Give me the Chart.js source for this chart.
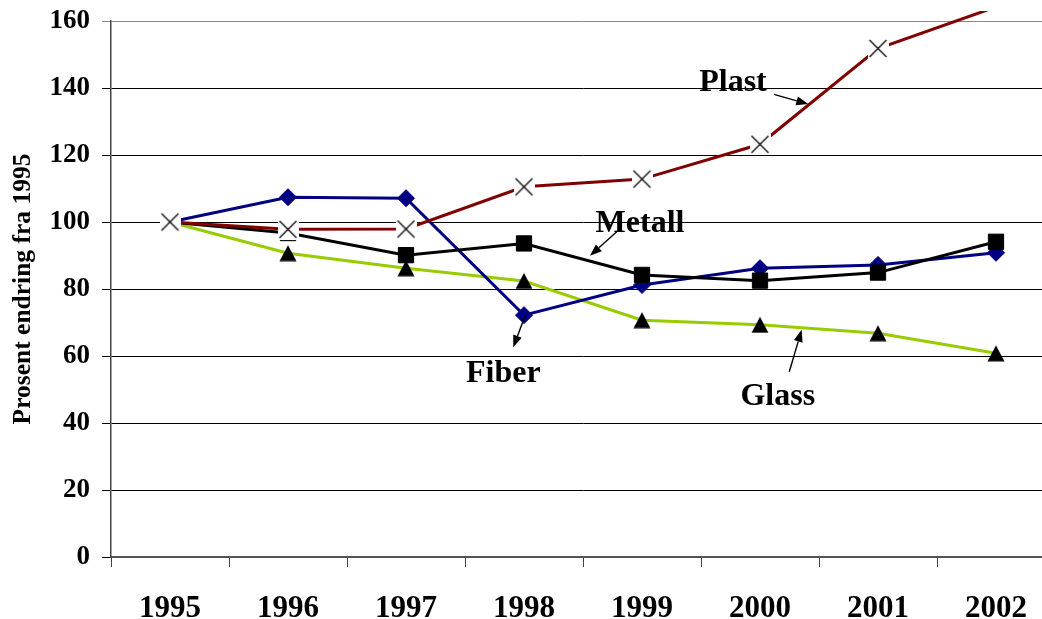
<!DOCTYPE html>
<html>
<head>
<meta charset="utf-8">
<script src="https://cdn.jsdelivr.net/npm/chart.js@4.4.0/dist/chart.umd.min.js"></script>
<style>
  html, body { margin: 0; padding: 0; background: #fff; overflow: hidden; width: 1042px; height: 619px; }
  #wrap { width: 1068px; height: 619px; }
</style>
</head>
<body>
<div id="wrap"><canvas id="c" width="1068" height="619"></canvas></div>
<script>
// Index of packaging waste volumes by material, 1995 = 100
const years  = ['1995', '1996', '1997', '1998', '1999', '2000', '2001', '2002'];
const fiber  = [100, 107.4, 107.1, 72.2, 81.2, 86.2, 87.2, 90.8];
const metall = [100, 96.7, 90.1, 93.6, 84.2, 82.5, 84.9, 94.1];
const plast  = [100, 97.8, 97.9, 110.5, 112.8, 123.2, 151.8, 164.2];
const glass  = [100, 90.7, 86.2, 82.4, 70.7, 69.3, 66.8, 60.8];
const yTicks = { min: 0, max: 160, step: 20 };

// Series callouts: text anchor (category index, value) and arrow from -> to
const callouts = [
  { text: 'Plast',  x: 4.771, y: 139.1, from: [5.119, 138.1], to: [5.409, 135.2] },
  { text: 'Metall', x: 3.983, y: 97.1,  from: [3.786, 97.1],  to: [3.559, 89.9] },
  { text: 'Fiber',  x: 2.825, y: 52.1,  from: [3.008, 71.9],  to: [2.909, 62.6] },
  { text: 'Glass',  x: 5.151, y: 45.4,  from: [5.248, 55.3],  to: [5.353, 67.8] }
];

const SERIF = "'Liberation Serif', 'Times New Roman', serif";

// X marker on a white tile, so lines stop short of it
function crossMarker() {
  const cv = document.createElement('canvas');
  cv.width = 21; cv.height = 21;
  const g = cv.getContext('2d');
  g.fillStyle = '#fff';
  g.fillRect(0, 0, 21, 21);
  g.strokeStyle = '#000';
  g.lineWidth = 1.2;
  g.beginPath();
  g.moveTo(2, 2); g.lineTo(19, 19);
  g.moveTo(19, 2); g.lineTo(2, 19);
  g.stroke();
  return cv;
}

// Solid triangle centred on its box
function triangleMarker() {
  const cv = document.createElement('canvas');
  cv.width = 18; cv.height = 17;
  const g = cv.getContext('2d');
  g.fillStyle = '#000';
  g.beginPath();
  g.moveTo(9, 0.5); g.lineTo(17.5, 16.5); g.lineTo(0.5, 16.5);
  g.closePath();
  g.fill();
  return cv;
}

const calloutPlugin = {
  id: 'callouts',
  afterDraw(chart) {
    const { ctx, scales: { x, y } } = chart;
    ctx.save();
    ctx.fillStyle = '#000';
    ctx.strokeStyle = '#000';
    ctx.font = 'bold 32px ' + SERIF;
    ctx.textAlign = 'center';
    ctx.textBaseline = 'alphabetic';
    callouts.forEach(c => {
      ctx.fillText(c.text, x.getPixelForValue(c.x), y.getPixelForValue(c.y));
      const x1 = x.getPixelForValue(c.from[0]), y1 = y.getPixelForValue(c.from[1]);
      const x2 = x.getPixelForValue(c.to[0]),   y2 = y.getPixelForValue(c.to[1]);
      const ang = Math.atan2(y2 - y1, x2 - x1);
      const len = 12, half = 4.5;
      const bx = x2 - len * Math.cos(ang), by = y2 - len * Math.sin(ang);
      ctx.lineWidth = 1.4;
      ctx.beginPath();
      ctx.moveTo(x1, y1);
      ctx.lineTo(bx, by);
      ctx.stroke();
      ctx.beginPath();
      ctx.moveTo(x2, y2);
      ctx.lineTo(bx + half * Math.sin(ang), by - half * Math.cos(ang));
      ctx.lineTo(bx - half * Math.sin(ang), by + half * Math.cos(ang));
      ctx.closePath();
      ctx.fill();
    });
    ctx.restore();
  }
};

const lineBase = { borderWidth: 3, tension: 0, fill: false, clip: { left: 20, top: 10, right: 20, bottom: 20 } };

new Chart(document.getElementById('c'), {
  type: 'line',
  data: {
    labels: years,
    datasets: [
      Object.assign({}, lineBase, {
        label: 'Plast', data: plast, borderColor: '#800000',
        pointStyle: crossMarker(), pointRadius: 10, order: 0
      }),
      Object.assign({}, lineBase, {
        label: 'Metall', data: metall, borderColor: '#000000',
        pointStyle: 'rect', pointRadius: 10.8, pointBackgroundColor: '#000', pointBorderColor: '#000',
        pointBorderWidth: 1, order: 1
      }),
      Object.assign({}, lineBase, {
        label: 'Fiber', data: fiber, borderColor: '#000080',
        pointStyle: 'rectRot', pointRadius: 8.5, pointBackgroundColor: '#000080', pointBorderColor: '#000080',
        pointBorderWidth: 1, order: 2
      }),
      Object.assign({}, lineBase, {
        label: 'Glass', data: glass, borderColor: '#99CC00',
        pointStyle: triangleMarker(), pointRadius: 9, order: 3
      })
    ]
  },
  options: {
    responsive: false,
    devicePixelRatio: 1,
    animation: false,
    events: [],
    layout: { padding: { top: 21, left: 0, right: 5, bottom: 0 } },
    plugins: { legend: { display: false }, tooltip: { enabled: false } },
    scales: {
      x: {
        offset: true,
        grid: { offset: true, drawOnChartArea: false, drawTicks: true, tickLength: 10, color: '#444' },
        border: { color: '#555', width: 2 },
        ticks: { color: '#000', font: { family: SERIF, size: 31, weight: 'bold' }, padding: 23, maxRotation: 0, autoSkip: false },
        afterFit(s) { s.height = 62; }
      },
      y: {
        min: yTicks.min, max: yTicks.max,
        ticks: { stepSize: yTicks.step, color: '#000', font: { family: SERIF, size: 27, weight: 'bold' }, padding: 12 },
        grid: {
          color: c => (c.tick && c.tick.value === yTicks.max ? '#888' : '#000'),
          lineWidth: 1, tickLength: 9, drawTicks: true
        },
        border: { color: '#444', width: 1.5 },
        title: {
          display: true, text: 'Prosent endring fra 1995', color: '#000',
          font: { family: SERIF, size: 25.5, weight: 'bold' }, padding: { top: 8, bottom: 0 }
        },
        afterFit(s) { s.width = 111; s.paddingTop = 0; s.paddingBottom = 0; }
      }
    }
  },
  plugins: [calloutPlugin]
});
</script>
</body>
</html>
